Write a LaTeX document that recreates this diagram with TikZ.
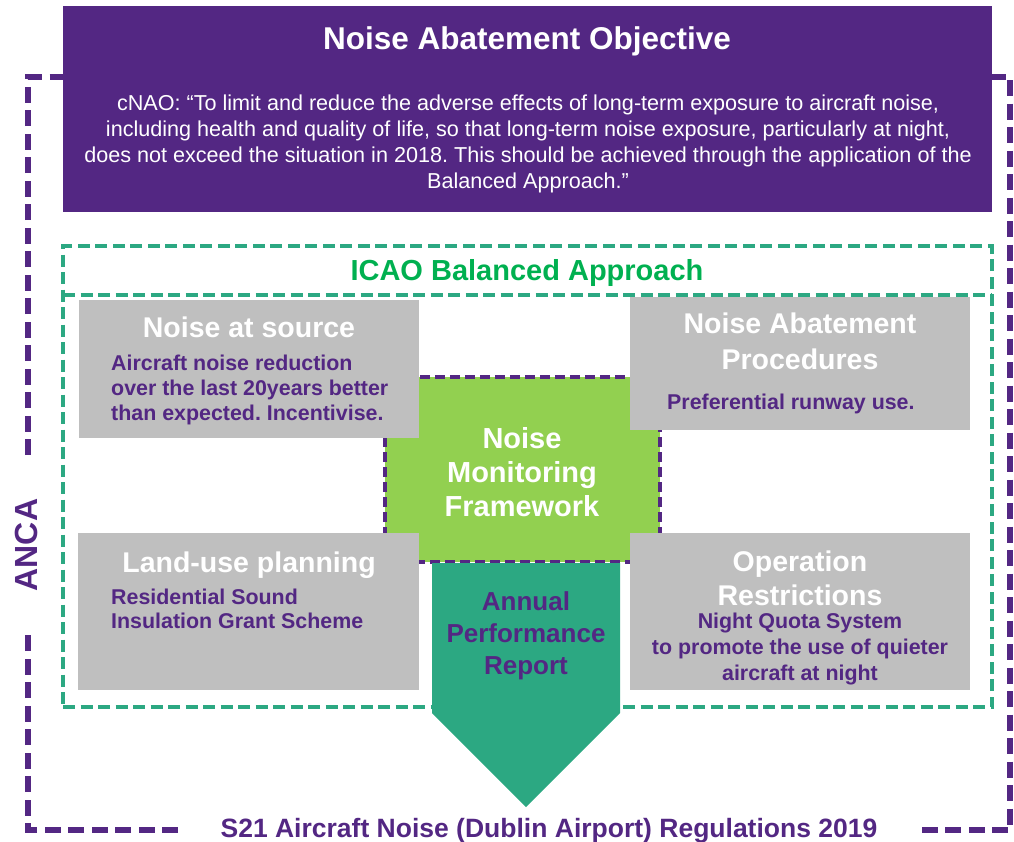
\documentclass[tikz,border=0pt]{standalone}
\usepackage{fontspec}
\setmainfont{Liberation Sans}
\frenchspacing
\definecolor{npurple}{HTML}{532783}
\definecolor{ngreen}{HTML}{92D050}
\definecolor{nteal}{HTML}{2CA882}
\definecolor{ngray}{HTML}{BFBFBF}
\definecolor{ntitle}{HTML}{00B050}
\newcommand{\fsz}[2]{\fontsize{#1}{#2}\selectfont}
\begin{document}
\begin{tikzpicture}[x=1pt,y=-1pt,
  framedash/.style={draw=npurple,line width=5.5pt,dash pattern=on 16pt off 7.5pt},
  greendash/.style={draw=nteal,line width=3.5pt,dash pattern=on 12pt off 5.5pt},
  innerdash/.style={draw=npurple,line width=3.5pt,dash pattern=on 10pt off 5pt},
  graybox/.style={fill=ngray,draw=none,inner sep=0pt},
  gtitle/.style={text=white,font=\bfseries\fsz{28.5}{35},align=center,inner sep=0pt},
  gbody/.style={text=npurple,font=\bfseries\fsz{21.4}{25},inner sep=0pt},
]
\useasboundingbox (0,0) rectangle (1014,841);
% outer ANCA frame
\draw[framedash] (28,455) -- (28,77) -- (1010,77) -- (1010,830) -- (922,830);
\draw[framedash] (178,830) -- (28,830) -- (28,635);
% objective box
\node[fill=npurple,inner sep=0pt,minimum width=929pt,minimum height=206pt] (obj) at (527.5,109) {};
\node[text=white,font=\bfseries\fsz{31.5}{36},inner sep=0pt] (objt) at (527,41) {Noise Abatement Objective};
\node[text=white,font=\fsz{21.6}{26},align=center,inner sep=0pt] (objq) at (528,143.5) {cNAO: “To limit and reduce the adverse effects of long-term exposure to aircraft noise,\\including health and quality of life, so that long-term noise exposure, particularly at night,\\does not exceed the situation in 2018. This should be achieved through the application of the\\Balanced Approach.”};
% ICAO box
\node[greendash,fill=none,inner sep=0pt,minimum width=929pt,minimum height=461pt] (icao) at (527.5,476.5) {};
\coordinate (il) at (63,295);
\coordinate (ir) at (992,295);
\draw[greendash] (il) -- (ir);
\node[text=ntitle,font=\bfseries\fsz{29}{34},inner sep=0pt] (icaot) at (527,272.5) {ICAO Balanced Approach};
% center framework
\node[fill=ngreen,innerdash,inner sep=0pt,minimum width=275pt,minimum height=185pt] (nmf) at (522.5,469.5) {};
% annual report arrow
\coordinate (a1) at (432,563);
\coordinate (a2) at (620,563);
\coordinate (a3) at (620,713);
\coordinate (a4) at (526,807);
\coordinate (a5) at (432,713);
\fill[nteal] (a1) -- (a2) -- (a3) -- (a4) -- (a5) -- cycle;
% gray boxes
\node[graybox,minimum width=340pt,minimum height=138pt] (src) at (249,369) {};
\node[graybox,minimum width=340pt,minimum height=133pt] (nap) at (800,363.5) {};
\node[graybox,minimum width=341pt,minimum height=157pt] (lup) at (248.5,611.5) {};
\node[graybox,minimum width=340pt,minimum height=157pt] (ops) at (800,611.5) {};
% texts
\node[gtitle] (srct) at (249,327) {Noise at source};
\node[gbody,anchor=west,align=left] (srcb) at (111,390) {Aircraft noise reduction\\over the last 20years better\\than expected. Incentivise.};
\node[gtitle,font=\bfseries\fsz{28.5}{36}] (napt) at (800,341.5) {Noise Abatement\\Procedures};
\node[gbody,anchor=west] (napb) at (667,403.5) {Preferential runway use.};
\node[gtitle] (lupt) at (249,565) {Land-use planning};
\node[gbody,anchor=west,align=left,font=\bfseries\fsz{21.4}{24}] (lupb) at (111,608.5) {Residential Sound\\Insulation Grant Scheme};
\node[gtitle,font=\bfseries\fsz{28.5}{34}] (opst) at (800,578) {Operation\\Restrictions};
\node[gbody,align=center,font=\bfseries\fsz{21.4}{26}] (opsb) at (800,649) {Night Quota System\\to promote the use of quieter\\aircraft at night};
\node[text=white,font=\bfseries\fsz{29}{34},align=center,inner sep=0pt] (nmft) at (522,472) {Noise\\Monitoring\\Framework};
\node[text=npurple,font=\bfseries\fsz{26}{32},align=center,inner sep=0pt] (aprt) at (526,636) {Annual\\Performance\\Report};
\node[text=npurple,font=\bfseries\fsz{26.5}{30},inner sep=0pt] (s21) at (549,830.5) {S21 Aircraft Noise (Dublin Airport) Regulations 2019};
\node[text=npurple,font=\bfseries\fsz{32}{36},inner sep=0pt,rotate=90] (anca) at (26,545) {ANCA};
\end{tikzpicture}
\end{document}
